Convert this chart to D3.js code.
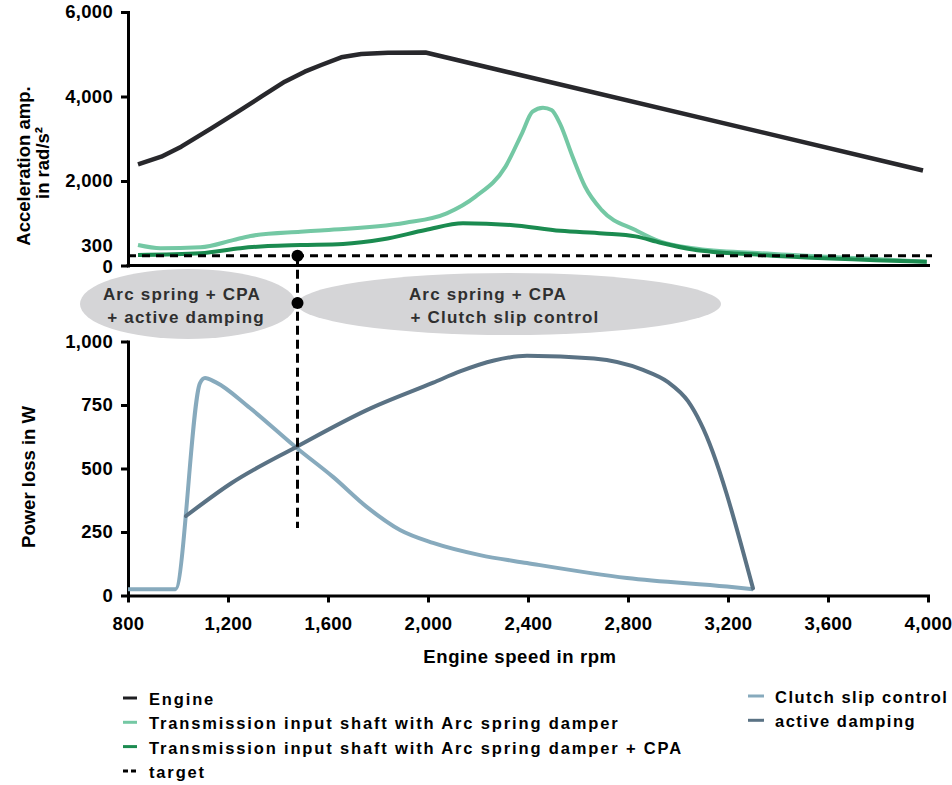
<!DOCTYPE html>
<html>
<head>
<meta charset="utf-8">
<script src="https://cdn.jsdelivr.net/npm/d3@7/dist/d3.min.js"></script>
<style>
  body { margin: 0; background: #fff; }
  text { font-family: "Liberation Sans", Arial, sans-serif; font-weight: bold; }
</style>
</head>
<body>
<div id="chart"></div>
<script>
const width = 952, height = 785;

// top panel: acceleration amplitude (rad/s²) over engine speed
const engineRpm = [840, 933, 1013, 1133, 1240, 1333, 1427, 1507, 1573, 1653, 1733, 1840, 1990, 3980];
const engineAmp = [2395, 2576, 2812, 3247, 3641, 3996, 4351, 4588, 4746, 4928, 5006, 5037, 5040, 2250];

const arcRpm = [840, 930, 1090, 1220, 1290, 1490, 1570, 1910, 2075, 2190, 2310, 2376, 2418, 2460, 2494, 2527, 2578, 2628, 2695, 2830, 2930, 3060, 3330, 3730, 3995];
const arcAmp = [485, 410, 430, 600, 700, 800, 830, 1010, 1235, 1630, 2340, 3130, 3640, 3735, 3680, 3370, 2580, 1870, 1310, 840, 565, 410, 290, 170, 90];

const cpaRpm = [840, 1090, 1250, 1360, 1490, 1660, 1820, 1990, 2140, 2330, 2530, 2700, 2830, 2930, 3060, 3330, 3995];
const cpaAmp = [250, 290, 410, 460, 485, 510, 620, 840, 1000, 960, 820, 760, 690, 540, 380, 250, 90];

const targetAmp = 230;

// bottom panel: power loss (W)
const slipRpm = [800, 990, 1088, 1108, 1150, 1288, 1476, 1620, 1756, 1888, 2020, 2208, 2396, 2796, 3196, 3300];
const slipLoss = [25, 25, 836, 856, 840, 738, 580, 467, 348, 258, 207, 159, 128, 69, 35, 25];

const dampRpm = [1032, 1213, 1475, 1755, 2021, 2128, 2264, 2396, 2664, 2860, 2960, 3040, 3090, 3300];
const dampLoss = [313, 442, 586, 730, 838, 882, 925, 944, 933, 888, 840, 765, 680, 28];

// where the strategy switches
const switchRpm = 1478;
const switchLossEnd = 266;

const accelTicks = [0, 300, 2000, 4000, 6000];
const powerTicks = [0, 250, 500, 750, 1000];
const rpmTicks = [800, 1200, 1600, 2000, 2400, 2800, 3200, 3600, 4000];

const legendLeft = [
  { label: "Engine", color: "#1f1f22", dash: null },
  { label: "Transmission input shaft with Arc spring damper", color: "#74c8a4", dash: null },
  { label: "Transmission input shaft with Arc spring damper + CPA", color: "#1b8b50", dash: null },
  { label: "target", color: "#000", dash: "5,3" }
];
const legendRight = [
  { label: "Clutch slip control", color: "#87aabd" },
  { label: "active damping", color: "#5a7284" }
];

const svg = d3.select("#chart").append("svg")
  .attr("width", width)
  .attr("height", height);

const x = d3.scaleLinear().domain([800, 4000]).range([128, 928]);
const yTop = d3.scaleLinear().domain([0, 6000]).range([265.5, 12]);
const yBot = d3.scaleLinear().domain([0, 1000]).range([595.5, 341.5]);

const zip = (a, b) => a.map((v, i) => [v, b[i]]);

// ---- strategy ellipses
svg.append("ellipse")
  .attr("cx", 188).attr("cy", 304).attr("rx", 108).attr("ry", 35)
  .attr("fill", "#d5d5d7");
svg.append("ellipse")
  .attr("cx", 509).attr("cy", 304).attr("rx", 212).attr("ry", 31)
  .attr("fill", "#d5d5d7");

const bubbleText = [
  { x: 182, y: 300, t: "Arc spring + CPA" },
  { x: 186, y: 323, t: "+ active damping" },
  { x: 488, y: 300, t: "Arc spring + CPA" },
  { x: 505, y: 323, t: "+ Clutch slip control" }
];
svg.selectAll(".bubble").data(bubbleText).enter().append("text")
  .attr("x", d => d.x).attr("y", d => d.y)
  .attr("text-anchor", "middle")
  .attr("font-size", "17px")
  .attr("letter-spacing", "1.2px")
  .attr("fill", "#2f2f2f")
  .text(d => d.t);

// ---- top panel axes
const topAxis = svg.append("g")
  .attr("transform", `translate(${x(800)},0)`)
  .call(d3.axisLeft(yTop).tickValues(accelTicks).tickFormat(d3.format(","))
    .tickSize(7).tickSizeOuter(0).tickPadding(8));

svg.append("line")
  .attr("x1", x(800) - 1.5).attr("x2", 930)
  .attr("y1", yTop(0)).attr("y2", yTop(0))
  .attr("stroke", "#000").attr("stroke-width", 3);

// ---- bottom panel axes
const botAxisY = svg.append("g")
  .attr("transform", `translate(${x(800)},0)`)
  .call(d3.axisLeft(yBot).tickValues(powerTicks).tickFormat(d3.format(","))
    .tickSize(7).tickSizeOuter(0).tickPadding(8));

const botAxisX = svg.append("g")
  .attr("transform", `translate(0,${yBot(0)})`)
  .call(d3.axisBottom(x).tickValues(rpmTicks).tickFormat(d3.format(","))
    .tickSize(7).tickSizeOuter(0).tickPadding(14));

[topAxis, botAxisY, botAxisX].forEach(a => {
  a.select(".domain").attr("stroke-width", 3).attr("stroke-linecap", "square");
  a.selectAll(".tick line").attr("stroke-width", 3);
  a.selectAll(".tick text")
    .attr("font-size", "18.5px")
    .attr("letter-spacing", "0.3px")
    .attr("fill", "#000");
  a.attr("font-family", null);
});

// the 300 label has no tick mark and sits a little higher
topAxis.selectAll(".tick").filter(d => d === 300).select("line").remove();
topAxis.selectAll(".tick").filter(d => d === 300).select("text").attr("dy", "-0.05em");
topAxis.selectAll(".tick").filter(d => d === 0).select("text").attr("dy", "0.38em");

// ---- series
const lineTop = d3.line().x(d => x(d[0])).y(d => yTop(d[1])).curve(d3.curveMonotoneX);
const lineBot = d3.line().x(d => x(d[0])).y(d => yBot(d[1])).curve(d3.curveMonotoneX);

svg.append("path")
  .datum(zip(arcRpm, arcAmp))
  .attr("fill", "none").attr("stroke", "#74c8a4").attr("stroke-width", 4)
  .attr("d", lineTop);

svg.append("path")
  .datum(zip(cpaRpm, cpaAmp))
  .attr("fill", "none").attr("stroke", "#1b8b50").attr("stroke-width", 4)
  .attr("d", lineTop);

svg.append("path")
  .datum(zip(engineRpm, engineAmp))
  .attr("fill", "none").attr("stroke", "#28282c").attr("stroke-width", 4.5)
  .attr("stroke-linejoin", "round")
  .attr("d", d3.line().x(d => x(d[0])).y(d => yTop(d[1])));

// target line
svg.append("line")
  .attr("x1", x(800)).attr("x2", 932)
  .attr("y1", yTop(targetAmp)).attr("y2", yTop(targetAmp))
  .attr("stroke", "#000").attr("stroke-width", 3)
  .attr("stroke-dasharray", "8,6");

svg.append("path")
  .datum(zip(slipRpm, slipLoss))
  .attr("fill", "none").attr("stroke", "#87aabd").attr("stroke-width", 4)
  .attr("d", lineBot);

svg.append("path")
  .datum(zip(dampRpm, dampLoss))
  .attr("fill", "none").attr("stroke", "#5a7284").attr("stroke-width", 4)
  .attr("stroke-linecap", "round")
  .attr("d", lineBot);

// switching point marker
svg.append("line")
  .attr("x1", x(switchRpm)).attr("x2", x(switchRpm))
  .attr("y1", yTop(targetAmp)).attr("y2", yBot(switchLossEnd))
  .attr("stroke", "#000").attr("stroke-width", 3)
  .attr("stroke-dasharray", "9,5");
svg.append("circle").attr("cx", x(switchRpm)).attr("cy", yTop(targetAmp)).attr("r", 6).attr("fill", "#000");
svg.append("circle").attr("cx", x(switchRpm)).attr("cy", 303).attr("r", 6).attr("fill", "#000");

// ---- axis titles
svg.append("text")
  .attr("transform", "translate(30,166) rotate(-90)")
  .attr("text-anchor", "middle").attr("font-size", "18.5px")
  .text("Acceleration amp.");
svg.append("text")
  .attr("transform", "translate(49,163) rotate(-90)")
  .attr("text-anchor", "middle").attr("font-size", "18.5px")
  .text("in rad/s²");
svg.append("text")
  .attr("transform", "translate(35,477) rotate(-90)")
  .attr("text-anchor", "middle").attr("font-size", "18.5px")
  .text("Power loss in W");
svg.append("text")
  .attr("x", 520).attr("y", 663)
  .attr("text-anchor", "middle").attr("font-size", "18.5px")
  .attr("letter-spacing", "0.6px")
  .text("Engine speed in rpm");

// ---- legend
const legL = svg.append("g");
legendLeft.forEach((d, i) => {
  const cy = 698 + i * 24.3;
  legL.append("line")
    .attr("x1", 123).attr("x2", 137).attr("y1", cy).attr("y2", cy)
    .attr("stroke", d.color).attr("stroke-width", 3)
    .attr("stroke-dasharray", d.dash);
  legL.append("text")
    .attr("x", 149).attr("y", cy + 7)
    .attr("font-size", "16.5px").attr("letter-spacing", "1.85px")
    .text(d.label);
});
legendRight.forEach((d, i) => {
  const cy = 696 + i * 24.3;
  legL.append("line")
    .attr("x1", 748).attr("x2", 764).attr("y1", cy).attr("y2", cy)
    .attr("stroke", d.color).attr("stroke-width", 3);
  legL.append("text")
    .attr("x", 775).attr("y", cy + 7)
    .attr("font-size", "16.5px").attr("letter-spacing", "1.5px")
    .text(d.label);
});
</script>
</body>
</html>
